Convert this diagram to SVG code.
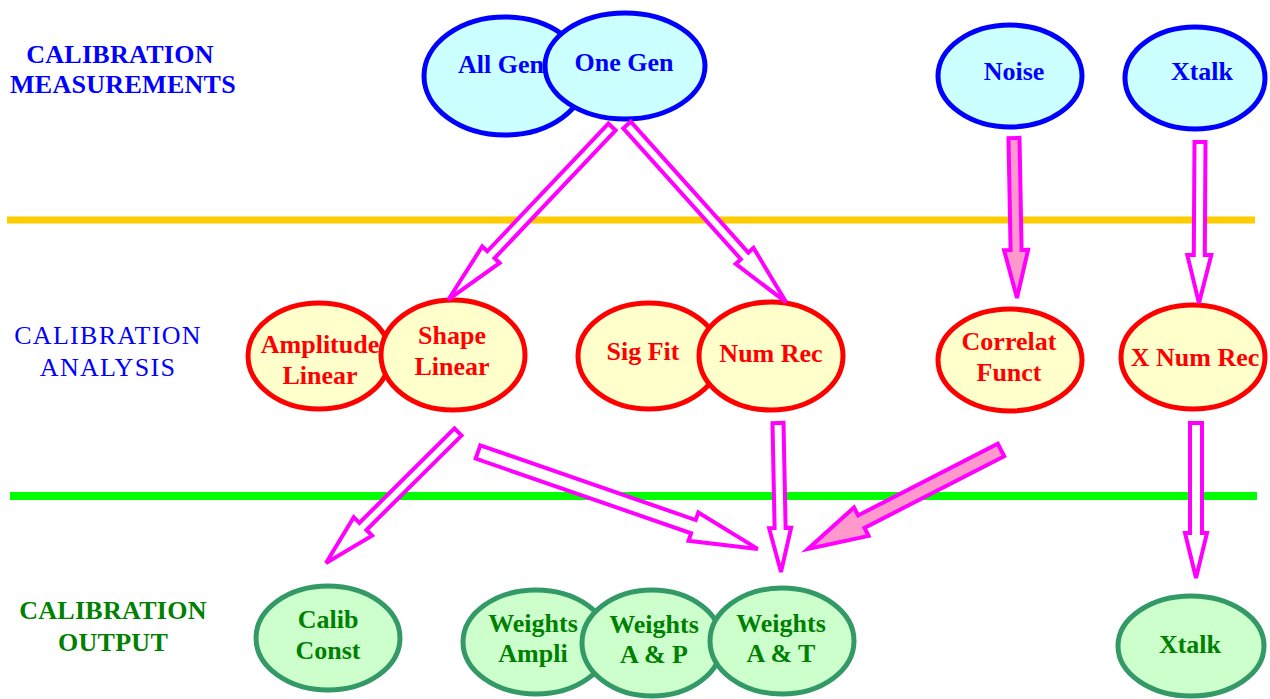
<svg xmlns="http://www.w3.org/2000/svg" width="1270" height="699" viewBox="0 0 1270 699">
<style>
text{font-family:"Liberation Serif","Times New Roman",serif;text-anchor:middle}
.lbl{font-size:26px;letter-spacing:0.3px;font-weight:bold}
.lbl2{font-size:26px;letter-spacing:1.3px;font-weight:normal}
.nt{font-size:26px;font-weight:bold}
.meas ellipse{fill:#CCFFFF;stroke:#0000FF;stroke-width:5}
.meas text{fill:#0000FF}
.ana ellipse{fill:#FFFFCC;stroke:#FF0000;stroke-width:5}
.ana text{fill:#FF0000}
.out ellipse{fill:#CCFFCC;stroke:#339966;stroke-width:5}
.out text{fill:#008000}
.arr{fill:#FFFFFF;stroke:#FF00FF;stroke-width:4;stroke-linejoin:miter}
.arr.pink{fill:#FF99CC}
</style>
<g id="separators">
<line x1="7" y1="220" x2="1255" y2="220" stroke="#FFCC00" stroke-width="7"/>
<line x1="10" y1="496" x2="1257" y2="496" stroke="#00FF00" stroke-width="8"/>
</g>
<g id="row-labels">
<text class="lbl" x="120" y="63" fill="#0000FF">CALIBRATION</text>
<text class="lbl" x="123" y="93" fill="#0000FF">MEASUREMENTS</text>
<text class="lbl2" x="108" y="344" fill="#0000FF">CALIBRATION</text>
<text class="lbl2" x="108" y="376" fill="#0000FF">ANALYSIS</text>
<text class="lbl" x="113" y="619" fill="#008000">CALIBRATION</text>
<text class="lbl" x="113" y="651" fill="#008000">OUTPUT</text>
</g>
<g id="node-allgen" class="meas"><ellipse cx="505" cy="76" rx="81" ry="59"/><text class="nt" x="501" y="73">All Gen</text></g>
<g id="node-onegen" class="meas"><ellipse cx="625" cy="66" rx="80" ry="53"/><text class="nt" x="624" y="71">One Gen</text></g>
<g id="node-noise" class="meas"><ellipse cx="1010" cy="76" rx="72" ry="51"/><text class="nt" x="1014" y="80">Noise</text></g>
<g id="node-xtalk-in" class="meas"><ellipse cx="1195" cy="78" rx="70" ry="51"/><text class="nt" x="1202" y="80">Xtalk</text></g>
<g id="node-amplin" class="ana"><ellipse cx="319" cy="356" rx="71" ry="53"/><text class="nt" x="320" y="353">Amplitude</text><text class="nt" x="320" y="384">Linear</text></g>
<g id="node-shapelin" class="ana"><ellipse cx="453" cy="355" rx="72" ry="55"/><text class="nt" x="452" y="344">Shape</text><text class="nt" x="452" y="375">Linear</text></g>
<g id="node-sigfit" class="ana"><ellipse cx="649" cy="356" rx="71" ry="53"/><text class="nt" x="643" y="360">Sig Fit</text></g>
<g id="node-numrec" class="ana"><ellipse cx="771" cy="356" rx="72" ry="54"/><text class="nt" x="771" y="362">Num Rec</text></g>
<g id="node-correlat" class="ana"><ellipse cx="1010" cy="360" rx="72" ry="51"/><text class="nt" x="1009" y="350">Correlat</text><text class="nt" x="1009" y="381">Funct</text></g>
<g id="node-xnumrec" class="ana"><ellipse cx="1193" cy="357" rx="72" ry="52"/><text class="nt" x="1195" y="366">X Num Rec</text></g>
<g id="node-calib" class="out"><ellipse cx="328" cy="638" rx="72" ry="52"/><text class="nt" x="328" y="628">Calib</text><text class="nt" x="328" y="659">Const</text></g>
<g id="node-wampli" class="out"><ellipse cx="536" cy="642" rx="73" ry="52"/><text class="nt" x="533" y="632">Weights</text><text class="nt" x="533" y="662">Ampli</text></g>
<g id="node-wap" class="out"><ellipse cx="652" cy="643" rx="70" ry="53"/><text class="nt" x="654" y="633">Weights</text><text class="nt" x="654" y="663">A &amp; P</text></g>
<g id="node-wat" class="out"><ellipse cx="782" cy="641" rx="72" ry="53"/><text class="nt" x="781" y="632">Weights</text><text class="nt" x="781" y="662">A &amp; T</text></g>
<g id="node-xtalk-out" class="out"><ellipse cx="1191" cy="646" rx="73" ry="50"/><text class="nt" x="1190" y="653">Xtalk</text></g>
<g id="connectors">
<polygon class="arr" transform="translate(612,127) rotate(133.47)" points="0,-5 176,-5 176,-12 238,0 176,12 176,5 0,5"/>
<polygon class="arr" transform="translate(627,125) rotate(48.07)" points="0,-5 176,-5 176,-12 238,0 176,12 176,5 0,5"/>
<polygon class="arr pink" transform="translate(1014,138) rotate(88.93)" points="0,-5.5 112,-5.5 112,-12 160,0 112,12 112,5.5 0,5.5"/>
<polygon class="arr" transform="translate(1200,142) rotate(90.36)" points="0,-5.5 113,-5.5 113,-12 161,0 113,12 113,5.5 0,5.5"/>
<polygon class="arr" transform="translate(458,432) rotate(135.2)" points="0,-5 134,-5 134,-13 186,0 134,13 134,5 0,5"/>
<polygon class="arr" transform="translate(478,452) rotate(19.11)" points="0,-7 228,-7 228,-15 296,0 228,15 228,7 0,7"/>
<polygon class="arr" transform="translate(778,423) rotate(88.85)" points="0,-5.5 105,-5.5 105,-11 149,0 105,11 105,5.5 0,5.5"/>
<polygon class="arr pink" transform="translate(1001,450) rotate(152.85)" points="0,-7 157,-7 157,-16 217,0 157,16 157,7 0,7"/>
<polygon class="arr" transform="translate(1196,423) rotate(90)" points="0,-6 110,-6 110,-11 155,0 110,11 110,6 0,6"/>
</g>
</svg>
